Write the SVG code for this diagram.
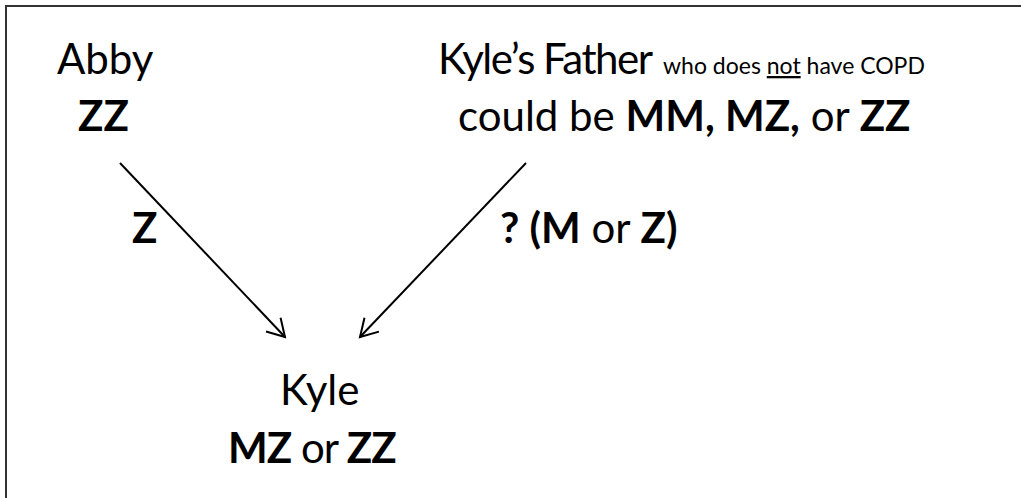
<svg xmlns="http://www.w3.org/2000/svg" width="1021" height="498" viewBox="0 0 1021 498">
<defs>
<style>
.t{font-family:"Lato","Liberation Sans",sans-serif;font-size:42px;fill:#000}
.b{font-weight:bold}
.s{font-size:23px;letter-spacing:0}
.ln{stroke:#000;stroke-width:2;fill:none;marker-end:url(#ah)}
</style>
<marker id="ah" markerUnits="userSpaceOnUse" markerWidth="40" markerHeight="40" viewBox="-20 -20 40 40" refX="0" refY="0" orient="auto">
<path d="M-17,-10 L0,0 L-17,10" fill="none" stroke="#000" stroke-width="2"/>
</marker>
</defs>
<rect width="1021" height="498" fill="#fff"/>
<path d="M6,498 V6 H1021" fill="none" stroke="#333" stroke-width="2"/>
<g id="abby">
<text class="t" x="57" y="74">Abby</text>
<text class="t b" x="78" y="131">ZZ</text>
</g>
<g id="father">
<text class="t" x="438" y="74"><tspan letter-spacing="-1.5">Kyle’s Father</tspan><tspan class="s" x="663">who does <tspan text-decoration="underline">not</tspan> have COPD</tspan></text>
<text class="t" x="458" y="131">could be <tspan class="b">MM, MZ,</tspan> or <tspan class="b">ZZ</tspan></text>
</g>
<g id="kyle">
<text class="t" x="280" y="405">Kyle</text>
<text class="t" x="228" y="463" letter-spacing="-1"><tspan class="b">MZ</tspan> or <tspan class="b">ZZ</tspan></text>
</g>
<g id="connectors">
<line class="ln" x1="120" y1="163" x2="285" y2="337"/>
<line class="ln" x1="526" y1="163" x2="360" y2="337"/>
<text class="t b" x="132" y="243">Z</text>
<text class="t" x="500" y="243"><tspan class="b">? (M</tspan> or <tspan class="b">Z)</tspan></text>
</g>
</svg>
